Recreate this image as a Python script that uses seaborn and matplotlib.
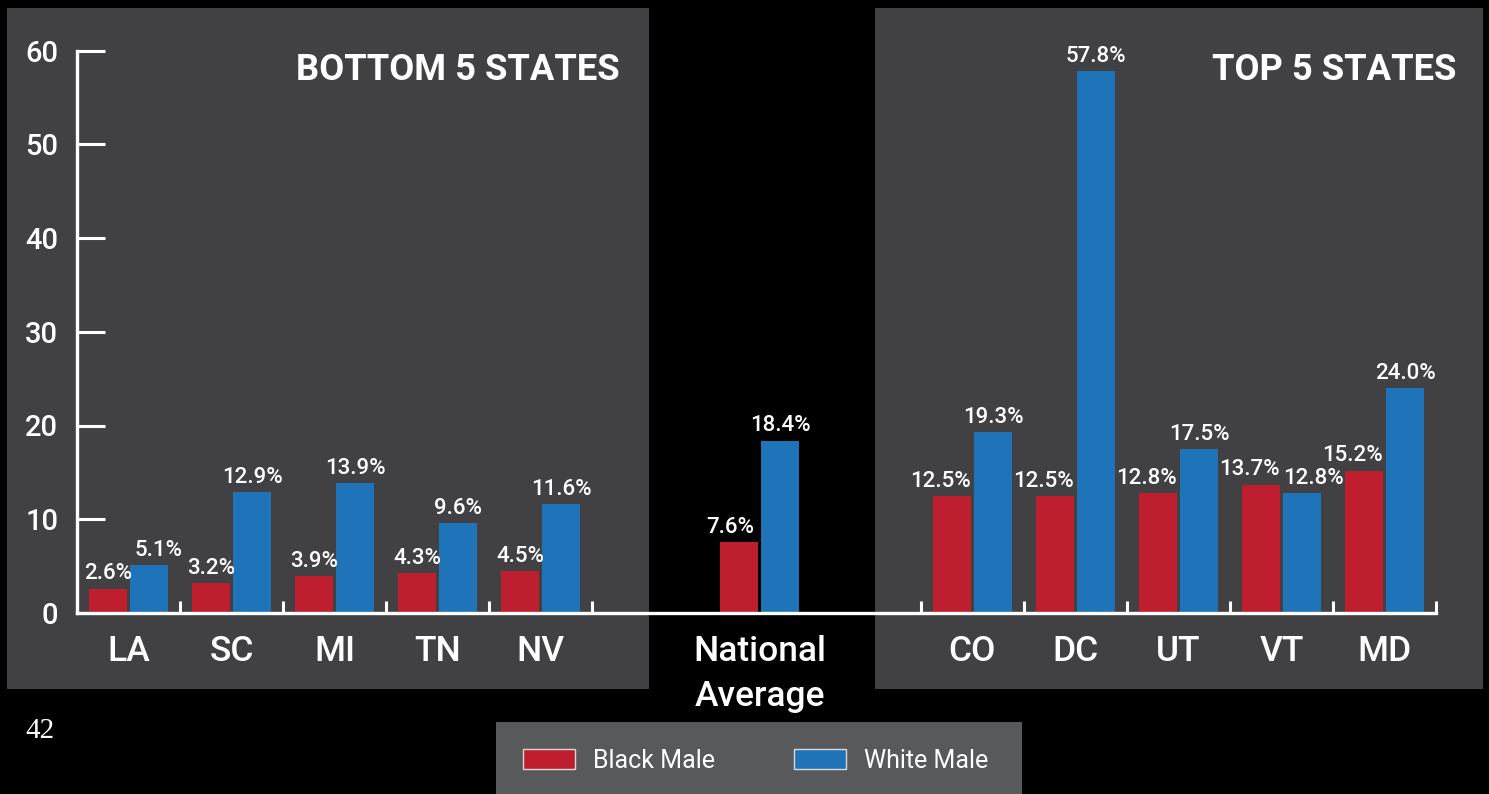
import pandas as pd
import seaborn as sns
import matplotlib.pyplot as plt
from matplotlib.patches import Rectangle, Patch

# data
bottom_states = ["LA", "SC", "MI", "TN", "NV"]
bottom_black = [2.6, 3.2, 3.9, 4.3, 4.5]
bottom_white = [5.1, 12.9, 13.9, 9.6, 11.6]

national_label = "National\nAverage"
national_black = 7.6
national_white = 18.4

top_states = ["CO", "DC", "UT", "VT", "MD"]
top_black = [12.5, 12.5, 12.8, 13.7, 15.2]
top_white = [19.3, 57.8, 17.5, 12.8, 24.0]

series = ["Black Male", "White Male"]
y_ticks = [0, 10, 20, 30, 40, 50, 60]

RED = "#be1e2d"
BLUE = "#1f73b9"
PANEL = "#414143"
LEGEND_BG = "#58595b"

sns.set_theme(style="ticks")
plt.rcParams['font.family'] = ['Roboto', 'DejaVu Sans']

# group positions: bottom 5, a gap holding the national average, then top 5
gap = 3.19
top_start = 4.5 + gap
pos_bottom = [i for i in range(len(bottom_states))]
pos_national = 4.5 + gap / 2 + 0.03
pos_top = [top_start + 0.5 + i for i in range(len(top_states))]

rows = []
for p, s, b, w in zip(pos_bottom, bottom_states, bottom_black, bottom_white):
    rows.append((p, s, series[0], b))
    rows.append((p, s, series[1], w))
rows.append((pos_national, "National", series[0], national_black))
rows.append((pos_national, "National", series[1], national_white))
for p, s, b, w in zip(pos_top, top_states, top_black, top_white):
    rows.append((p, s, series[0], b))
    rows.append((p, s, series[1], w))
df = pd.DataFrame(rows, columns=["pos", "state", "group", "value"])

fig = plt.figure(figsize=(14.89, 7.94), dpi=100, facecolor="black")
W, H = 1489, 794

# grey panels behind the two state groups, and the legend box
for x0, x1, y0, y1, col in [(7, 649, 8, 689, PANEL), (875, 1483, 8, 689, PANEL),
                            (496, 1022, 722, 800, LEGEND_BG)]:
    fig.patches.append(Rectangle((x0 / W, 1 - y1 / H), (x1 - x0) / W, (y1 - y0) / H,
                                 transform=fig.transFigure, facecolor=col,
                                 edgecolor="none", zorder=-1))

ax = fig.add_axes([77 / W, 1 - 613 / H, (1436 - 77) / W, (613 - 50.5) / H])
ax.set_facecolor("none")

sns.barplot(data=df, x="pos", y="value", hue="group", hue_order=series,
            palette=[RED, BLUE], native_scale=True, width=0.8, gap=0.08,
            saturation=1, errorbar=None, legend=False, linewidth=0,
            edgecolor="none", ax=ax)

# value labels, with a few nudged sideways so neighbours don't collide
align = {("White Male", "VT"): "left"}
for s in top_states:
    align[("Black Male", s)] = "right"
nudge = {("White Male", "LA"): 7, ("Black Male", "National"): -6}
for name, cont in zip(series, ax.containers):
    sub = df[df["group"] == name]
    for bar, st, val in zip(cont.patches, sub["state"], sub["value"]):
        ha = align.get((name, st), "center")
        if ha == "right":
            x = bar.get_x() + bar.get_width()
        elif ha == "left":
            x = bar.get_x()
        else:
            x = bar.get_x() + bar.get_width() / 2
        ax.annotate(f"{val:.1f}%", (x, bar.get_height()),
                    xytext=(nudge.get((name, st), 0), 3), textcoords="offset points",
                    ha=ha, va="bottom", color="white", fontsize=16, fontweight="medium")

ax.set_xlim(-0.5, top_start + 5)
ax.set_ylim(0, 60)
ax.set_yticks(y_ticks)
ax.set_xticks(pos_bottom + [pos_national] + pos_top)
ax.set_xticklabels(bottom_states + [national_label] + top_states,
                   fontsize=25.5, color="white", linespacing=1.45, fontweight="medium")
ax.set_xticks([i + 0.5 for i in range(5)] + [top_start + i for i in range(6)], minor=True)
ax.set_xlabel("")
ax.set_ylabel("")

ax.tick_params(axis="x", which="major", length=0, pad=16)
ax.tick_params(axis="x", which="minor", direction="in", length=8.6, width=2.2, color="white")
ax.tick_params(axis="y", direction="in", length=20, width=2.2, color="white",
               labelsize=21, labelcolor="white", pad=13.5)
for t in ax.get_yticklabels():
    t.set_fontweight("medium")

for side in ["top", "right"]:
    ax.spines[side].set_visible(False)
for side in ["left", "bottom"]:
    ax.spines[side].set_color("white")
    ax.spines[side].set_linewidth(2.4)

# panel titles
fig.text(620 / W, 1 - 70 / H, "BOTTOM 5 STATES", ha="right", va="center",
         fontsize=26.2, fontweight="bold", color="white")
fig.text(1456 / W, 1 - 70 / H, "TOP 5 STATES", ha="right", va="center",
         fontsize=26.2, fontweight="bold", color="white")

# legend inside the grey box
handles = [Patch(facecolor=RED, edgecolor="#d9d9d9", linewidth=1, label=series[0]),
           Patch(facecolor=BLUE, edgecolor="#d9d9d9", linewidth=1, label=series[1])]
fig.legend(handles=handles, loc="center left", bbox_to_anchor=(523 / W, 1 - 761 / H),
           ncol=2, frameon=False, fontsize=18, labelcolor="white",
           handlelength=2.08, handleheight=0.85, handletextpad=0.72,
           columnspacing=3.16, borderpad=0, borderaxespad=0)

# page number
fig.text(25 / W, 1 - 731 / H, "42", ha="left", va="center", fontsize=21,
         color="white", family=["Liberation Serif", "DejaVu Serif"])

fig.savefig("out.png", dpi=100, facecolor="black")
